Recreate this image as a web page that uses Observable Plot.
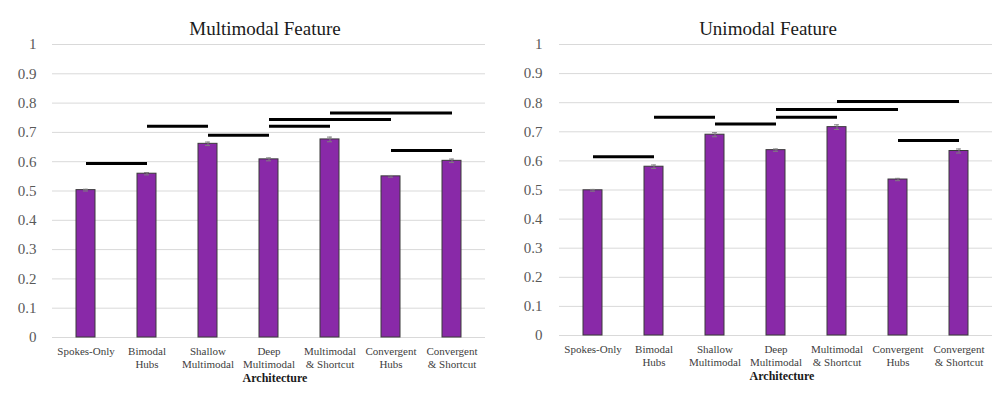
<!DOCTYPE html>
<html>
<head>
<meta charset="utf-8">
<script src="https://cdn.jsdelivr.net/npm/d3@7"></script>
<script src="https://cdn.jsdelivr.net/npm/@observablehq/plot@0.6"></script>
<style>
  html, body { margin: 0; padding: 0; background: #fff; }
  #wrap { position: relative; width: 1004px; height: 398px; overflow: hidden; font-family: "Liberation Serif", serif; }
  .panel { position: absolute; top: 0; width: 502px; }
  .title { height: 36px; box-sizing: border-box; padding-top: 18px; line-height: 22px; font-size: 19px; color: #1a1a1a; text-align: center; white-space: nowrap; overflow: visible; }
  svg { display: block; }
</style>
</head>
<body>
<div id="wrap">
  <div class="panel" id="left" style="left:0"></div>
  <div class="panel" id="right" style="left:502px"></div>
</div>
<script>
// ---- data ----
const categories = ["Spokes-Only", "Bimodal Hubs", "Shallow Multimodal", "Deep Multimodal", "Multimodal & Shortcut", "Convergent Hubs", "Convergent & Shortcut"];
const tickLabels = ["Spokes-Only", "Bimodal\nHubs", "Shallow\nMultimodal", "Deep\nMultimodal", "Multimodal\n& Shortcut", "Convergent\nHubs", "Convergent\n& Shortcut"];
const yTicks = [0, 0.1, 0.2, 0.3, 0.4, 0.5, 0.6, 0.7, 0.8, 0.9, 1];
const yTickLabels = ["0", "0.1", "0.2", "0.3", "0.4", "0.5", "0.6", "0.7", "0.8", "0.9", "1"];

const multimodalValues = [0.503, 0.559, 0.661, 0.608, 0.676, 0.550, 0.603];
const multimodalErrors = [0.003, 0.004, 0.006, 0.005, 0.008, 0.003, 0.006];
const multimodalSigFrom = [0, 1, 2, 3, 3, 4, 5];
const multimodalSigTo   = [1, 2, 3, 4, 5, 6, 6];
const multimodalSigY    = [0.594, 0.721, 0.690, 0.721, 0.744, 0.766, 0.638];

const unimodalValues = [0.499, 0.580, 0.690, 0.637, 0.716, 0.536, 0.634];
const unimodalErrors = [0.003, 0.006, 0.007, 0.004, 0.008, 0.004, 0.007];
const unimodalSigFrom = [0, 1, 2, 3, 3, 4, 5];
const unimodalSigTo   = [1, 2, 3, 4, 5, 6, 6];
const unimodalSigY    = [0.614, 0.750, 0.727, 0.750, 0.777, 0.804, 0.670];

function panel(el, title, values, errors, sigFrom, sigTo, sigY, m) {
  const bars = categories.map((c, i) => ({cat: c, v: values[i], e: errors[i]}));
  const sig = sigY.map((y, i) => ({from: categories[sigFrom[i]], to: categories[sigTo[i]], y}));
  const labelOf = new Map(categories.map((c, i) => [c, tickLabels[i]]));
  const t = document.createElement("div");
  t.className = "title";
  t.style.paddingLeft = m.titleShift + "px";
  t.textContent = title;
  el.appendChild(t);
  const chart = Plot.plot({
    width: 502,
    height: 362,
    marginTop: m.top,
    marginBottom: m.bottom,
    marginLeft: m.left,
    marginRight: m.right,
    style: {fontFamily: "'Liberation Serif', serif", background: "white", color: "#595959"},
    x: {domain: categories, padding: 0, label: null},
    y: {domain: [0, 1], label: null},
    marks: [
      Plot.gridY(yTicks, {stroke: "#d9d9d9", strokeOpacity: 1}),
      Plot.axisY(yTicks, {tickSize: 0, tickPadding: m.yPad, fontSize: 15, fill: "#595959", tickFormat: (d, i) => yTickLabels[i], label: null}),
      Plot.axisX({tickSize: 0, tickPadding: 9, fontSize: 11, fill: "#404040", lineHeight: 1.13, tickFormat: d => labelOf.get(d), label: null}),
      Plot.barY(bars, {x: "cat", y: "v", fill: "#8929a8", stroke: "#3a3a3a", strokeWidth: 1, insetLeft: 21, insetRight: 21}),
      Plot.ruleX(bars, {x: "cat", y1: d => d.v - d.e, y2: d => d.v + d.e, stroke: "#7f7f7f", strokeWidth: 1}),
      Plot.tickY(bars, {x: "cat", y: d => d.v + d.e, stroke: "#7f7f7f", strokeWidth: 1, insetLeft: 28, insetRight: 28}),
      Plot.tickY(bars, {x: "cat", y: d => d.v - d.e, stroke: "#7f7f7f", strokeWidth: 1, insetLeft: 28, insetRight: 28}),
      Plot.link(sig, {x1: "from", x2: "to", y1: "y", y2: "y", stroke: "black", strokeWidth: 3}),
      Plot.text(["Architecture"], {frameAnchor: "bottom", dy: 44, dx: 6, fontWeight: "bold", fontSize: 12, fill: "#1a1a1a"})
    ]
  });
  el.appendChild(chart);
}

panel(document.getElementById("left"), "Multimodal Feature", multimodalValues, multimodalErrors,
  multimodalSigFrom, multimodalSigTo, multimodalSigY, {top: 8, bottom: 61, left: 52, right: 17, yPad: 16, titleShift: 28});
panel(document.getElementById("right"), "Unimodal Feature", unimodalValues, unimodalErrors,
  unimodalSigFrom, unimodalSigTo, unimodalSigY, {top: 8, bottom: 63, left: 57, right: 12, yPad: 17, titleShift: 30});
</script>
</body>
</html>
